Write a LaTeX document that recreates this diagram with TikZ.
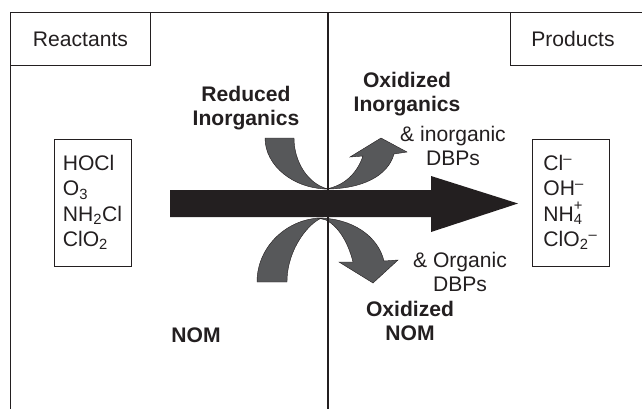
\documentclass[tikz,border=0pt]{standalone}
\usepackage{fontspec}
\setmainfont{Liberation Sans}
\usepackage{tikz}
\definecolor{inkblack}{RGB}{35,31,32}
\definecolor{bandgray}{RGB}{87,88,90}
\newcommand{\lblfont}{\fontsize{15}{16.5}\selectfont}
\tikzset{font=\lblfont}
\tikzset{
  box/.style={draw=inkblack,line width=0.6pt,rectangle,inner sep=0pt,text=inkblack},
  lbl/.style={text=inkblack,align=center,inner sep=0pt},
  boldlbl/.style={lbl,font=\lblfont\bfseries},
  species/.style={box,align=left,minimum width=1.925cm,minimum height=3.175cm,
    font=\fontsize{15}{18}\selectfont},
  band/.style={fill=bandgray,draw=inkblack,line width=0.3pt}
}

\begin{document}
\begin{tikzpicture}[x=0.025cm,y=-0.025cm]
  \useasboundingbox (0,0) rectangle (642,409);
  \draw[inkblack,line width=0.6pt] (642,12) -- (10,12) -- (10,409);

  \node[box,anchor=north west,minimum width=3.5cm,minimum height=1.325cm] (react) at (10,12) {Reactants};
  \draw[inkblack,line width=0.6pt] (510,12) -- (510,65) -- (642,65);
  \node[lbl] (prod) at (573,39) {Products};

  \node[species] (oxidants) at (92.5,202.5) {HOCl\\O\textsubscript{3}\\NH\textsubscript{2}Cl\\ClO\textsubscript{2}};
  \node[species] (ions) at (570.5,202.5)
    {Cl\textsuperscript{–}\\OH\textsuperscript{–}\\NH\rlap{\raisebox{2pt}{\textsuperscript{+}}}\textsubscript{4}\\ClO\textsubscript{2}\textsuperscript{–}};

  % curved arrows
  \begin{scope}
    \filldraw[band] (265,138) -- (294,138) .. controls (294,162) and (308,184) .. (328,189)
      .. controls (294,189) and (265,166) .. (265,138) -- cycle;
    \filldraw[band] (326,189) .. controls (362,189) and (388,176) .. (394,154) -- (407,152)
      -- (381,138) -- (350,157) -- (363,156) .. controls (356,176) and (342,186) .. (326,189) -- cycle;
    \filldraw[band] (257,282) .. controls (257,246) and (288,218) .. (322,218)
      .. controls (310,222) and (287,248) .. (287,282) -- cycle;
    \filldraw[band] (318,218) .. controls (352,218) and (378,236) .. (384,261) -- (398,260)
      -- (373,283) -- (339,262) -- (353,262) .. controls (348,242) and (338,226) .. (326,220) -- cycle;
  \end{scope}

  \fill[inkblack] (170,190) -- (431,190) -- (431,176) -- (518,203.5) -- (431,232)
    -- (431,217) -- (170,217) -- cycle;
  \draw[inkblack,line width=0.9pt] (328,12) -- (328,409);

  \node[boldlbl] (redinorg) at (246,108) {Reduced\\Inorganics};
  \node[boldlbl] (oxinorg) at (407,94) {Oxidized\\Inorganics};
  \node[lbl] (inorgdbp) at (453,146) {\& inorganic\\DBPs};
  \node[lbl] (orgdbp) at (460,272) {\& Organic\\DBPs};
  \node[boldlbl] (oxnom) at (410,321) {Oxidized\\NOM};
  \node[boldlbl] (nom) at (196,335) {NOM};
\end{tikzpicture}
\end{document}
